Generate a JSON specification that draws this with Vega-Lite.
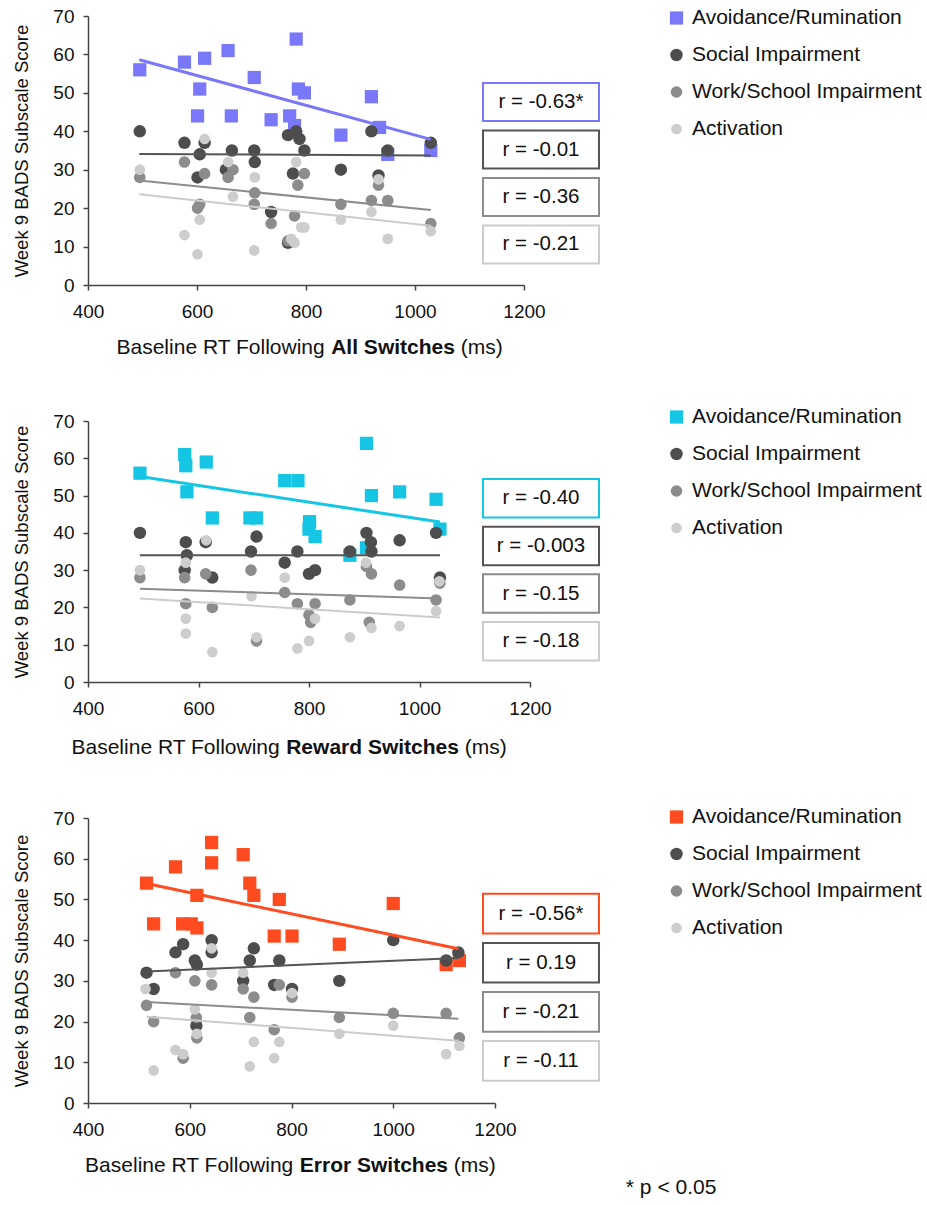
{
  "$schema": "https://vega.github.io/schema/vega-lite/v6.json",
  "padding": {"left": 12, "top": 7, "right": 5, "bottom": 5},
  "spacing": 49,
  "title": {"text": "* p < 0.05", "orient": "bottom", "anchor": "start", "dx": 613, "offset": 2, "fontSize": 21, "fontWeight": "normal", "font": "Liberation Sans", "color": "#111"},
  "datasets": {
    "points": [
      {"panel":"all","series":"Avoidance/Rumination","rt":495,"score":56},
      {"panel":"all","series":"Avoidance/Rumination","rt":577,"score":58},
      {"panel":"all","series":"Avoidance/Rumination","rt":614,"score":59},
      {"panel":"all","series":"Avoidance/Rumination","rt":657,"score":61},
      {"panel":"all","series":"Avoidance/Rumination","rt":605,"score":51},
      {"panel":"all","series":"Avoidance/Rumination","rt":601,"score":44},
      {"panel":"all","series":"Avoidance/Rumination","rt":663,"score":44},
      {"panel":"all","series":"Avoidance/Rumination","rt":705,"score":54},
      {"panel":"all","series":"Avoidance/Rumination","rt":736,"score":43},
      {"panel":"all","series":"Avoidance/Rumination","rt":770,"score":44},
      {"panel":"all","series":"Avoidance/Rumination","rt":779,"score":41.5},
      {"panel":"all","series":"Avoidance/Rumination","rt":782,"score":64},
      {"panel":"all","series":"Avoidance/Rumination","rt":786,"score":51},
      {"panel":"all","series":"Avoidance/Rumination","rt":797,"score":50},
      {"panel":"all","series":"Avoidance/Rumination","rt":864,"score":39},
      {"panel":"all","series":"Avoidance/Rumination","rt":920,"score":49},
      {"panel":"all","series":"Avoidance/Rumination","rt":935,"score":41},
      {"panel":"all","series":"Avoidance/Rumination","rt":950,"score":34},
      {"panel":"all","series":"Avoidance/Rumination","rt":1029,"score":35},
      {"panel":"all","series":"Social Impairment","rt":495,"score":40},
      {"panel":"all","series":"Social Impairment","rt":577,"score":37},
      {"panel":"all","series":"Social Impairment","rt":614,"score":37},
      {"panel":"all","series":"Social Impairment","rt":605,"score":34},
      {"panel":"all","series":"Social Impairment","rt":601,"score":28},
      {"panel":"all","series":"Social Impairment","rt":664,"score":35},
      {"panel":"all","series":"Social Impairment","rt":705,"score":35},
      {"panel":"all","series":"Social Impairment","rt":706,"score":32},
      {"panel":"all","series":"Social Impairment","rt":653,"score":30},
      {"panel":"all","series":"Social Impairment","rt":736,"score":19},
      {"panel":"all","series":"Social Impairment","rt":767,"score":39},
      {"panel":"all","series":"Social Impairment","rt":782,"score":40},
      {"panel":"all","series":"Social Impairment","rt":788,"score":38},
      {"panel":"all","series":"Social Impairment","rt":797,"score":35},
      {"panel":"all","series":"Social Impairment","rt":776,"score":29},
      {"panel":"all","series":"Social Impairment","rt":767,"score":11},
      {"panel":"all","series":"Social Impairment","rt":864,"score":30},
      {"panel":"all","series":"Social Impairment","rt":920,"score":40},
      {"panel":"all","series":"Social Impairment","rt":933,"score":28.5},
      {"panel":"all","series":"Social Impairment","rt":950,"score":35},
      {"panel":"all","series":"Social Impairment","rt":1029,"score":37},
      {"panel":"all","series":"Work/School Impairment","rt":495,"score":28},
      {"panel":"all","series":"Work/School Impairment","rt":577,"score":32},
      {"panel":"all","series":"Work/School Impairment","rt":614,"score":29},
      {"panel":"all","series":"Work/School Impairment","rt":605,"score":21},
      {"panel":"all","series":"Work/School Impairment","rt":601,"score":20},
      {"panel":"all","series":"Work/School Impairment","rt":657,"score":28},
      {"panel":"all","series":"Work/School Impairment","rt":666,"score":30},
      {"panel":"all","series":"Work/School Impairment","rt":706,"score":24},
      {"panel":"all","series":"Work/School Impairment","rt":705,"score":21},
      {"panel":"all","series":"Work/School Impairment","rt":736,"score":16},
      {"panel":"all","series":"Work/School Impairment","rt":779,"score":18},
      {"panel":"all","series":"Work/School Impairment","rt":785,"score":26},
      {"panel":"all","series":"Work/School Impairment","rt":797,"score":29},
      {"panel":"all","series":"Work/School Impairment","rt":864,"score":21},
      {"panel":"all","series":"Work/School Impairment","rt":920,"score":22},
      {"panel":"all","series":"Work/School Impairment","rt":933,"score":26},
      {"panel":"all","series":"Work/School Impairment","rt":950,"score":22},
      {"panel":"all","series":"Work/School Impairment","rt":1029,"score":16},
      {"panel":"all","series":"Work/School Impairment","rt":767,"score":11.5},
      {"panel":"all","series":"Activation","rt":495,"score":30},
      {"panel":"all","series":"Activation","rt":577,"score":13},
      {"panel":"all","series":"Activation","rt":601,"score":8},
      {"panel":"all","series":"Activation","rt":605,"score":17},
      {"panel":"all","series":"Activation","rt":614,"score":38},
      {"panel":"all","series":"Activation","rt":657,"score":32},
      {"panel":"all","series":"Activation","rt":666,"score":23},
      {"panel":"all","series":"Activation","rt":706,"score":28},
      {"panel":"all","series":"Activation","rt":705,"score":9},
      {"panel":"all","series":"Activation","rt":782,"score":32},
      {"panel":"all","series":"Activation","rt":773,"score":12},
      {"panel":"all","series":"Activation","rt":791,"score":15},
      {"panel":"all","series":"Activation","rt":797,"score":15},
      {"panel":"all","series":"Activation","rt":864,"score":17},
      {"panel":"all","series":"Activation","rt":920,"score":19},
      {"panel":"all","series":"Activation","rt":933,"score":27.5},
      {"panel":"all","series":"Activation","rt":950,"score":12},
      {"panel":"all","series":"Activation","rt":1029,"score":14},
      {"panel":"all","series":"Activation","rt":779,"score":11},

      {"panel":"reward","series":"Avoidance/Rumination","rt":494,"score":56},
      {"panel":"reward","series":"Avoidance/Rumination","rt":575,"score":61},
      {"panel":"reward","series":"Avoidance/Rumination","rt":577,"score":58},
      {"panel":"reward","series":"Avoidance/Rumination","rt":579,"score":51},
      {"panel":"reward","series":"Avoidance/Rumination","rt":614,"score":59},
      {"panel":"reward","series":"Avoidance/Rumination","rt":625,"score":44},
      {"panel":"reward","series":"Avoidance/Rumination","rt":693,"score":44},
      {"panel":"reward","series":"Avoidance/Rumination","rt":705,"score":44},
      {"panel":"reward","series":"Avoidance/Rumination","rt":756,"score":54},
      {"panel":"reward","series":"Avoidance/Rumination","rt":780,"score":54},
      {"panel":"reward","series":"Avoidance/Rumination","rt":801,"score":43},
      {"panel":"reward","series":"Avoidance/Rumination","rt":800,"score":41},
      {"panel":"reward","series":"Avoidance/Rumination","rt":811,"score":39},
      {"panel":"reward","series":"Avoidance/Rumination","rt":874,"score":34},
      {"panel":"reward","series":"Avoidance/Rumination","rt":904,"score":64},
      {"panel":"reward","series":"Avoidance/Rumination","rt":913,"score":50},
      {"panel":"reward","series":"Avoidance/Rumination","rt":964,"score":51},
      {"panel":"reward","series":"Avoidance/Rumination","rt":1030,"score":49},
      {"panel":"reward","series":"Avoidance/Rumination","rt":1037,"score":41},
      {"panel":"reward","series":"Avoidance/Rumination","rt":904,"score":36},
      {"panel":"reward","series":"Social Impairment","rt":494,"score":40},
      {"panel":"reward","series":"Social Impairment","rt":577,"score":37.5},
      {"panel":"reward","series":"Social Impairment","rt":579,"score":34},
      {"panel":"reward","series":"Social Impairment","rt":575,"score":30},
      {"panel":"reward","series":"Social Impairment","rt":613,"score":37.5},
      {"panel":"reward","series":"Social Impairment","rt":625,"score":28},
      {"panel":"reward","series":"Social Impairment","rt":705,"score":39},
      {"panel":"reward","series":"Social Impairment","rt":695,"score":35},
      {"panel":"reward","series":"Social Impairment","rt":756,"score":32},
      {"panel":"reward","series":"Social Impairment","rt":779,"score":35},
      {"panel":"reward","series":"Social Impairment","rt":800,"score":29},
      {"panel":"reward","series":"Social Impairment","rt":811,"score":30},
      {"panel":"reward","series":"Social Impairment","rt":874,"score":35},
      {"panel":"reward","series":"Social Impairment","rt":904,"score":40},
      {"panel":"reward","series":"Social Impairment","rt":912,"score":37.5},
      {"panel":"reward","series":"Social Impairment","rt":913,"score":35},
      {"panel":"reward","series":"Social Impairment","rt":964,"score":38},
      {"panel":"reward","series":"Social Impairment","rt":1030,"score":40},
      {"panel":"reward","series":"Social Impairment","rt":1037,"score":28},
      {"panel":"reward","series":"Work/School Impairment","rt":494,"score":28},
      {"panel":"reward","series":"Work/School Impairment","rt":575,"score":28},
      {"panel":"reward","series":"Work/School Impairment","rt":577,"score":21},
      {"panel":"reward","series":"Work/School Impairment","rt":613,"score":29},
      {"panel":"reward","series":"Work/School Impairment","rt":625,"score":20},
      {"panel":"reward","series":"Work/School Impairment","rt":695,"score":30},
      {"panel":"reward","series":"Work/School Impairment","rt":756,"score":24},
      {"panel":"reward","series":"Work/School Impairment","rt":779,"score":21},
      {"panel":"reward","series":"Work/School Impairment","rt":800,"score":18},
      {"panel":"reward","series":"Work/School Impairment","rt":811,"score":21},
      {"panel":"reward","series":"Work/School Impairment","rt":803,"score":16},
      {"panel":"reward","series":"Work/School Impairment","rt":874,"score":22},
      {"panel":"reward","series":"Work/School Impairment","rt":904,"score":31},
      {"panel":"reward","series":"Work/School Impairment","rt":913,"score":29},
      {"panel":"reward","series":"Work/School Impairment","rt":909,"score":16},
      {"panel":"reward","series":"Work/School Impairment","rt":964,"score":26},
      {"panel":"reward","series":"Work/School Impairment","rt":1030,"score":22},
      {"panel":"reward","series":"Work/School Impairment","rt":1037,"score":26.5},
      {"panel":"reward","series":"Work/School Impairment","rt":705,"score":11},
      {"panel":"reward","series":"Activation","rt":494,"score":30},
      {"panel":"reward","series":"Activation","rt":577,"score":32},
      {"panel":"reward","series":"Activation","rt":577,"score":17},
      {"panel":"reward","series":"Activation","rt":577,"score":13},
      {"panel":"reward","series":"Activation","rt":614,"score":38},
      {"panel":"reward","series":"Activation","rt":625,"score":8},
      {"panel":"reward","series":"Activation","rt":696,"score":23},
      {"panel":"reward","series":"Activation","rt":705,"score":12},
      {"panel":"reward","series":"Activation","rt":756,"score":28},
      {"panel":"reward","series":"Activation","rt":779,"score":9},
      {"panel":"reward","series":"Activation","rt":800,"score":11},
      {"panel":"reward","series":"Activation","rt":811,"score":17},
      {"panel":"reward","series":"Activation","rt":874,"score":12},
      {"panel":"reward","series":"Activation","rt":903,"score":32},
      {"panel":"reward","series":"Activation","rt":913,"score":14.5},
      {"panel":"reward","series":"Activation","rt":964,"score":15},
      {"panel":"reward","series":"Activation","rt":1036,"score":27},
      {"panel":"reward","series":"Activation","rt":1030,"score":19},

      {"panel":"error","series":"Avoidance/Rumination","rt":515,"score":54},
      {"panel":"error","series":"Avoidance/Rumination","rt":529,"score":44},
      {"panel":"error","series":"Avoidance/Rumination","rt":572,"score":58},
      {"panel":"error","series":"Avoidance/Rumination","rt":586,"score":44},
      {"panel":"error","series":"Avoidance/Rumination","rt":603,"score":44},
      {"panel":"error","series":"Avoidance/Rumination","rt":614,"score":51},
      {"panel":"error","series":"Avoidance/Rumination","rt":614,"score":43},
      {"panel":"error","series":"Avoidance/Rumination","rt":643,"score":64},
      {"panel":"error","series":"Avoidance/Rumination","rt":643,"score":59},
      {"panel":"error","series":"Avoidance/Rumination","rt":705,"score":61},
      {"panel":"error","series":"Avoidance/Rumination","rt":718,"score":54},
      {"panel":"error","series":"Avoidance/Rumination","rt":726,"score":51},
      {"panel":"error","series":"Avoidance/Rumination","rt":766,"score":41},
      {"panel":"error","series":"Avoidance/Rumination","rt":776,"score":50},
      {"panel":"error","series":"Avoidance/Rumination","rt":801,"score":41},
      {"panel":"error","series":"Avoidance/Rumination","rt":894,"score":39},
      {"panel":"error","series":"Avoidance/Rumination","rt":1000,"score":49},
      {"panel":"error","series":"Avoidance/Rumination","rt":1104,"score":34},
      {"panel":"error","series":"Avoidance/Rumination","rt":1130,"score":35},
      {"panel":"error","series":"Social Impairment","rt":515,"score":32},
      {"panel":"error","series":"Social Impairment","rt":529,"score":28},
      {"panel":"error","series":"Social Impairment","rt":572,"score":37},
      {"panel":"error","series":"Social Impairment","rt":587,"score":39},
      {"panel":"error","series":"Social Impairment","rt":610,"score":35},
      {"panel":"error","series":"Social Impairment","rt":614,"score":34},
      {"panel":"error","series":"Social Impairment","rt":643,"score":40},
      {"panel":"error","series":"Social Impairment","rt":613,"score":19},
      {"panel":"error","series":"Social Impairment","rt":643,"score":37},
      {"panel":"error","series":"Social Impairment","rt":705,"score":30},
      {"panel":"error","series":"Social Impairment","rt":718,"score":35},
      {"panel":"error","series":"Social Impairment","rt":726,"score":38},
      {"panel":"error","series":"Social Impairment","rt":766,"score":29},
      {"panel":"error","series":"Social Impairment","rt":776,"score":35},
      {"panel":"error","series":"Social Impairment","rt":801,"score":28},
      {"panel":"error","series":"Social Impairment","rt":894,"score":30},
      {"panel":"error","series":"Social Impairment","rt":1000,"score":40},
      {"panel":"error","series":"Social Impairment","rt":1104,"score":35},
      {"panel":"error","series":"Social Impairment","rt":1128,"score":37},
      {"panel":"error","series":"Work/School Impairment","rt":515,"score":24},
      {"panel":"error","series":"Work/School Impairment","rt":529,"score":20},
      {"panel":"error","series":"Work/School Impairment","rt":572,"score":32},
      {"panel":"error","series":"Work/School Impairment","rt":610,"score":30},
      {"panel":"error","series":"Work/School Impairment","rt":643,"score":29},
      {"panel":"error","series":"Work/School Impairment","rt":613,"score":21},
      {"panel":"error","series":"Work/School Impairment","rt":614,"score":16},
      {"panel":"error","series":"Work/School Impairment","rt":705,"score":28},
      {"panel":"error","series":"Work/School Impairment","rt":726,"score":26},
      {"panel":"error","series":"Work/School Impairment","rt":718,"score":21},
      {"panel":"error","series":"Work/School Impairment","rt":776,"score":29},
      {"panel":"error","series":"Work/School Impairment","rt":766,"score":18},
      {"panel":"error","series":"Work/School Impairment","rt":801,"score":26},
      {"panel":"error","series":"Work/School Impairment","rt":894,"score":21},
      {"panel":"error","series":"Work/School Impairment","rt":1000,"score":22},
      {"panel":"error","series":"Work/School Impairment","rt":1104,"score":22},
      {"panel":"error","series":"Work/School Impairment","rt":1130,"score":16},
      {"panel":"error","series":"Work/School Impairment","rt":587,"score":11},
      {"panel":"error","series":"Activation","rt":513,"score":28},
      {"panel":"error","series":"Activation","rt":529,"score":8},
      {"panel":"error","series":"Activation","rt":572,"score":13},
      {"panel":"error","series":"Activation","rt":587,"score":12},
      {"panel":"error","series":"Activation","rt":610,"score":23},
      {"panel":"error","series":"Activation","rt":614,"score":17},
      {"panel":"error","series":"Activation","rt":643,"score":38},
      {"panel":"error","series":"Activation","rt":643,"score":32},
      {"panel":"error","series":"Activation","rt":705,"score":32},
      {"panel":"error","series":"Activation","rt":718,"score":9},
      {"panel":"error","series":"Activation","rt":726,"score":15},
      {"panel":"error","series":"Activation","rt":766,"score":11},
      {"panel":"error","series":"Activation","rt":776,"score":15},
      {"panel":"error","series":"Activation","rt":801,"score":27},
      {"panel":"error","series":"Activation","rt":894,"score":17},
      {"panel":"error","series":"Activation","rt":1000,"score":19},
      {"panel":"error","series":"Activation","rt":1104,"score":12},
      {"panel":"error","series":"Activation","rt":1130,"score":14}
    ],
    "trends": [
      {"panel":"all","series":"Avoidance/Rumination","rt":494,"score":58.6},
      {"panel":"all","series":"Avoidance/Rumination","rt":1029,"score":37.9},
      {"panel":"all","series":"Social Impairment","rt":494,"score":34.1},
      {"panel":"all","series":"Social Impairment","rt":1029,"score":33.7},
      {"panel":"all","series":"Work/School Impairment","rt":494,"score":27.2},
      {"panel":"all","series":"Work/School Impairment","rt":1029,"score":19.5},
      {"panel":"all","series":"Activation","rt":494,"score":23.6},
      {"panel":"all","series":"Activation","rt":1029,"score":15.4},
      {"panel":"reward","series":"Avoidance/Rumination","rt":494,"score":55.1},
      {"panel":"reward","series":"Avoidance/Rumination","rt":1037,"score":42.9},
      {"panel":"reward","series":"Social Impairment","rt":494,"score":34},
      {"panel":"reward","series":"Social Impairment","rt":1037,"score":34},
      {"panel":"reward","series":"Work/School Impairment","rt":494,"score":25},
      {"panel":"reward","series":"Work/School Impairment","rt":1037,"score":22.4},
      {"panel":"reward","series":"Activation","rt":494,"score":22.4},
      {"panel":"reward","series":"Activation","rt":1037,"score":17.3},
      {"panel":"error","series":"Avoidance/Rumination","rt":515,"score":53.9},
      {"panel":"error","series":"Avoidance/Rumination","rt":1128,"score":37.9},
      {"panel":"error","series":"Social Impairment","rt":515,"score":32.3},
      {"panel":"error","series":"Social Impairment","rt":1128,"score":35.6},
      {"panel":"error","series":"Work/School Impairment","rt":515,"score":24.8},
      {"panel":"error","series":"Work/School Impairment","rt":1128,"score":20.7},
      {"panel":"error","series":"Activation","rt":515,"score":21.2},
      {"panel":"error","series":"Activation","rt":1128,"score":15.3}
    ],
    "stats": [
      {"panel":"all","series":"Avoidance/Rumination","label":"r = -0.63*"},
      {"panel":"all","series":"Social Impairment","label":"r = -0.01"},
      {"panel":"all","series":"Work/School Impairment","label":"r = -0.36"},
      {"panel":"all","series":"Activation","label":"r = -0.21"},
      {"panel":"reward","series":"Avoidance/Rumination","label":"r = -0.40"},
      {"panel":"reward","series":"Social Impairment","label":"r = -0.003"},
      {"panel":"reward","series":"Work/School Impairment","label":"r = -0.15"},
      {"panel":"reward","series":"Activation","label":"r = -0.18"},
      {"panel":"error","series":"Avoidance/Rumination","label":"r = -0.56*"},
      {"panel":"error","series":"Social Impairment","label":"r = 0.19"},
      {"panel":"error","series":"Work/School Impairment","label":"r = -0.21"},
      {"panel":"error","series":"Activation","label":"r = -0.11"}
    ]
  },
  "vconcat": [
    {
      "width": 436, "height": 269,
      "layer": [
        {
          "layer": [
            {
              "data": {"name": "points"},
              "transform": [{"filter": "datum.panel === 'all'"}],
              "mark": {"type": "point", "filled": true, "opacity": 1, "strokeWidth": 0},
              "encoding": {
                "x": {"field": "rt", "type": "quantitative", "scale": {"domain": [400, 1200]}, "axis": {"orient": "bottom", "values": [400, 600, 800, 1000, 1200], "format": "d", "title": "Baseline RT Following", "titleX": 28, "titleY": 68, "titleAlign": "left", "titleBaseline": "alphabetic"}},
                "y": {"field": "score", "type": "quantitative", "scale": {"domain": [0, 70]}, "axis": {"values": [0, 10, 20, 30, 40, 50, 60, 70], "tickCount": 8, "title": "Week 9 BADS Subscale Score"}},
                "color": {"field": "series", "type": "nominal", "scale": {"domain": ["Avoidance/Rumination", "Social Impairment", "Work/School Impairment", "Activation"], "range": ["#7878F8", "#4D4D4D", "#8C8C8C", "#CDCDCD"]}, "legend": {"orient": "none", "legendX": 578, "legendY": -8.5}},
                "shape": {"field": "series", "type": "nominal", "scale": {"domain": ["Avoidance/Rumination", "Social Impairment", "Work/School Impairment", "Activation"], "range": ["square", "circle", "circle", "circle"]}},
                "size": {"field": "series", "type": "nominal", "scale": {"domain": ["Avoidance/Rumination", "Social Impairment", "Work/School Impairment", "Activation"], "range": [175, 115, 115, 115]}}
              }
            },
            {
              "data": {"name": "trends"},
              "transform": [{"filter": "datum.panel === 'all' && datum.series === 'Avoidance/Rumination'"}],
              "mark": {"type": "line", "strokeWidth": 3},
              "encoding": {
                "x": {"field": "rt", "type": "quantitative", "axis": {"orient": "bottom", "labels": false, "ticks": false, "domain": false, "title": "All Switches", "titleFontWeight": "bold", "titleX": 242.7, "titleY": 68, "titleAlign": "left", "titleBaseline": "alphabetic"}},
                "y": {"field": "score", "type": "quantitative", "axis": {"values": [0, 10, 20, 30, 40, 50, 60, 70], "tickCount": 8, "title": "Week 9 BADS Subscale Score"}},
                "stroke": {"field": "series", "type": "nominal", "scale": {"domain": ["Avoidance/Rumination", "Social Impairment", "Work/School Impairment", "Activation"], "range": ["#7878F8", "#555555", "#8C8C8C", "#CCCCCC"]}, "legend": null}
              }
            },
            {
              "data": {"name": "trends"},
              "transform": [{"filter": "datum.panel === 'all' && datum.series !== 'Avoidance/Rumination'"}],
              "mark": {"type": "line", "strokeWidth": 2},
              "encoding": {
                "x": {"field": "rt", "type": "quantitative", "axis": {"orient": "bottom", "labels": false, "ticks": false, "domain": false, "title": "(ms)", "titleX": 372.2, "titleY": 68, "titleAlign": "left", "titleBaseline": "alphabetic"}},
                "y": {"field": "score", "type": "quantitative", "axis": {"values": [0, 10, 20, 30, 40, 50, 60, 70], "tickCount": 8, "title": "Week 9 BADS Subscale Score"}},
                "stroke": {"field": "series", "type": "nominal", "legend": null}
              }
            }
          ],
          "resolve": {"axis": {"x": "independent"}}
        },
        {
          "data": {"name": "stats"},
          "transform": [{"filter": "datum.panel === 'all'"}],
          "layer": [
            {
              "mark": {"type": "rect", "fill": "white", "strokeWidth": 2},
              "encoding": {
                "x": {"datum": 1124.8, "type": "quantitative", "axis": null},
                "x2": {"datum": 1337.6},
                "y": {"field": "series", "type": "nominal", "scale": {"domain": ["Avoidance/Rumination", "Social Impairment", "Work/School Impairment", "Activation"], "paddingInner": 0.2, "paddingOuter": 0.932, "align": 0.757}, "axis": null},
                "stroke": {"field": "series", "type": "nominal", "legend": null}
              }
            },
            {
              "mark": {"type": "text", "fontSize": 20.5, "font": "Liberation Sans", "color": "#111"},
              "encoding": {
                "x": {"datum": 1231.2, "type": "quantitative", "axis": null},
                "y": {"field": "series", "type": "nominal", "axis": null},
                "text": {"field": "label"}
              }
            }
          ]
        }
      ],
      "resolve": {"scale": {"y": "independent"}, "axis": {"x": "independent", "y": "independent"}}
    },
    {
      "width": 442, "height": 261,
      "layer": [
        {
          "layer": [
            {
              "data": {"name": "points"},
              "transform": [{"filter": "datum.panel === 'reward'"}],
              "mark": {"type": "point", "filled": true, "opacity": 1, "strokeWidth": 0},
              "encoding": {
                "x": {"field": "rt", "type": "quantitative", "scale": {"domain": [400, 1200]}, "axis": {"orient": "bottom", "values": [400, 600, 800, 1000, 1200], "format": "d", "title": "Baseline RT Following", "titleX": -17, "titleY": 71, "titleAlign": "left", "titleBaseline": "alphabetic"}},
                "y": {"field": "score", "type": "quantitative", "scale": {"domain": [0, 70]}, "axis": {"values": [0, 10, 20, 30, 40, 50, 60, 70], "tickCount": 8, "title": "Week 9 BADS Subscale Score"}},
                "color": {"field": "series", "type": "nominal", "scale": {"domain": ["Avoidance/Rumination", "Social Impairment", "Work/School Impairment", "Activation"], "range": ["#14C6E4", "#4D4D4D", "#8C8C8C", "#CDCDCD"]}, "legend": {"orient": "none", "legendX": 578, "legendY": -14.5}},
                "shape": {"field": "series", "type": "nominal", "scale": {"domain": ["Avoidance/Rumination", "Social Impairment", "Work/School Impairment", "Activation"], "range": ["square", "circle", "circle", "circle"]}},
                "size": {"field": "series", "type": "nominal", "scale": {"domain": ["Avoidance/Rumination", "Social Impairment", "Work/School Impairment", "Activation"], "range": [175, 115, 115, 115]}}
              }
            },
            {
              "data": {"name": "trends"},
              "transform": [{"filter": "datum.panel === 'reward' && datum.series === 'Avoidance/Rumination'"}],
              "mark": {"type": "line", "strokeWidth": 3},
              "encoding": {
                "x": {"field": "rt", "type": "quantitative", "axis": {"orient": "bottom", "labels": false, "ticks": false, "domain": false, "title": "Reward Switches", "titleFontWeight": "bold", "titleX": 197.7, "titleY": 71, "titleAlign": "left", "titleBaseline": "alphabetic"}},
                "y": {"field": "score", "type": "quantitative", "axis": {"values": [0, 10, 20, 30, 40, 50, 60, 70], "tickCount": 8, "title": "Week 9 BADS Subscale Score"}},
                "stroke": {"field": "series", "type": "nominal", "scale": {"domain": ["Avoidance/Rumination", "Social Impairment", "Work/School Impairment", "Activation"], "range": ["#14C6E4", "#555555", "#8C8C8C", "#CCCCCC"]}, "legend": null}
              }
            },
            {
              "data": {"name": "trends"},
              "transform": [{"filter": "datum.panel === 'reward' && datum.series !== 'Avoidance/Rumination'"}],
              "mark": {"type": "line", "strokeWidth": 2},
              "encoding": {
                "x": {"field": "rt", "type": "quantitative", "axis": {"orient": "bottom", "labels": false, "ticks": false, "domain": false, "title": "(ms)", "titleX": 376.2, "titleY": 71, "titleAlign": "left", "titleBaseline": "alphabetic"}},
                "y": {"field": "score", "type": "quantitative", "axis": {"values": [0, 10, 20, 30, 40, 50, 60, 70], "tickCount": 8, "title": "Week 9 BADS Subscale Score"}},
                "stroke": {"field": "series", "type": "nominal", "legend": null}
              }
            }
          ],
          "resolve": {"axis": {"x": "independent"}}
        },
        {
          "data": {"name": "stats"},
          "transform": [{"filter": "datum.panel === 'reward'"}],
          "layer": [
            {
              "mark": {"type": "rect", "fill": "white", "strokeWidth": 2},
              "encoding": {
                "x": {"datum": 1114.9, "type": "quantitative", "axis": null},
                "x2": {"datum": 1324.9},
                "y": {"field": "series", "type": "nominal", "scale": {"domain": ["Avoidance/Rumination", "Social Impairment", "Work/School Impairment", "Activation"], "paddingInner": 0.192, "paddingOuter": 0.834, "align": 0.73}, "axis": null},
                "stroke": {"field": "series", "type": "nominal", "legend": null}
              }
            },
            {
              "mark": {"type": "text", "fontSize": 20.5, "font": "Liberation Sans", "color": "#111"},
              "encoding": {
                "x": {"datum": 1219.9, "type": "quantitative", "axis": null},
                "y": {"field": "series", "type": "nominal", "axis": null},
                "text": {"field": "label"}
              }
            }
          ]
        }
      ],
      "resolve": {"scale": {"y": "independent"}, "axis": {"x": "independent", "y": "independent"}}
    },
    {
      "width": 407, "height": 285,
      "layer": [
        {
          "layer": [
            {
              "data": {"name": "points"},
              "transform": [{"filter": "datum.panel === 'error'"}],
              "mark": {"type": "point", "filled": true, "opacity": 1, "strokeWidth": 0},
              "encoding": {
                "x": {"field": "rt", "type": "quantitative", "scale": {"domain": [400, 1200]}, "axis": {"orient": "bottom", "values": [400, 600, 800, 1000, 1200], "format": "d", "title": "Baseline RT Following", "titleX": -3.4, "titleY": 68, "titleAlign": "left", "titleBaseline": "alphabetic"}},
                "y": {"field": "score", "type": "quantitative", "scale": {"domain": [0, 70]}, "axis": {"values": [0, 10, 20, 30, 40, 50, 60, 70], "tickCount": 8, "title": "Week 9 BADS Subscale Score"}},
                "color": {"field": "series", "type": "nominal", "scale": {"domain": ["Avoidance/Rumination", "Social Impairment", "Work/School Impairment", "Activation"], "range": ["#FF4B1F", "#4D4D4D", "#8C8C8C", "#CDCDCD"]}, "legend": {"orient": "none", "legendX": 578, "legendY": -11.5}},
                "shape": {"field": "series", "type": "nominal", "scale": {"domain": ["Avoidance/Rumination", "Social Impairment", "Work/School Impairment", "Activation"], "range": ["square", "circle", "circle", "circle"]}},
                "size": {"field": "series", "type": "nominal", "scale": {"domain": ["Avoidance/Rumination", "Social Impairment", "Work/School Impairment", "Activation"], "range": [175, 115, 115, 115]}}
              }
            },
            {
              "data": {"name": "trends"},
              "transform": [{"filter": "datum.panel === 'error' && datum.series === 'Avoidance/Rumination'"}],
              "mark": {"type": "line", "strokeWidth": 3},
              "encoding": {
                "x": {"field": "rt", "type": "quantitative", "axis": {"orient": "bottom", "labels": false, "ticks": false, "domain": false, "title": "Error Switches", "titleFontWeight": "bold", "titleX": 211.3, "titleY": 68, "titleAlign": "left", "titleBaseline": "alphabetic"}},
                "y": {"field": "score", "type": "quantitative", "axis": {"values": [0, 10, 20, 30, 40, 50, 60, 70], "tickCount": 8, "title": "Week 9 BADS Subscale Score"}},
                "stroke": {"field": "series", "type": "nominal", "scale": {"domain": ["Avoidance/Rumination", "Social Impairment", "Work/School Impairment", "Activation"], "range": ["#FF4B1F", "#555555", "#8C8C8C", "#CCCCCC"]}, "legend": null}
              }
            },
            {
              "data": {"name": "trends"},
              "transform": [{"filter": "datum.panel === 'error' && datum.series !== 'Avoidance/Rumination'"}],
              "mark": {"type": "line", "strokeWidth": 2},
              "encoding": {
                "x": {"field": "rt", "type": "quantitative", "axis": {"orient": "bottom", "labels": false, "ticks": false, "domain": false, "title": "(ms)", "titleX": 365.3, "titleY": 68, "titleAlign": "left", "titleBaseline": "alphabetic"}},
                "y": {"field": "score", "type": "quantitative", "axis": {"values": [0, 10, 20, 30, 40, 50, 60, 70], "tickCount": 8, "title": "Week 9 BADS Subscale Score"}},
                "stroke": {"field": "series", "type": "nominal", "legend": null}
              }
            }
          ],
          "resolve": {"axis": {"x": "independent"}}
        },
        {
          "data": {"name": "stats"},
          "transform": [{"filter": "datum.panel === 'error'"}],
          "layer": [
            {
              "mark": {"type": "rect", "fill": "white", "strokeWidth": 2},
              "encoding": {
                "x": {"datum": 1176.4, "type": "quantitative", "axis": null},
                "x2": {"datum": 1404.4},
                "y": {"field": "series", "type": "nominal", "scale": {"domain": ["Avoidance/Rumination", "Social Impairment", "Work/School Impairment", "Activation"], "paddingInner": 0.192, "paddingOuter": 1.085, "align": 0.773}, "axis": null},
                "stroke": {"field": "series", "type": "nominal", "legend": null}
              }
            },
            {
              "mark": {"type": "text", "fontSize": 20.5, "font": "Liberation Sans", "color": "#111"},
              "encoding": {
                "x": {"datum": 1290.4, "type": "quantitative", "axis": null},
                "y": {"field": "series", "type": "nominal", "axis": null},
                "text": {"field": "label"}
              }
            }
          ]
        }
      ],
      "resolve": {"scale": {"y": "independent"}, "axis": {"x": "independent", "y": "independent"}}
    }
  ],
  "resolve": {
    "scale": {"color": "independent", "stroke": "independent", "shape": "independent", "size": "independent"},
    "legend": {"color": "independent", "stroke": "independent", "shape": "independent", "size": "independent"}
  },
  "config": {
    "font": "Liberation Sans",
    "view": {"stroke": null},
    "axis": {"grid": false, "labelFont": "Liberation Sans", "labelFontSize": 19, "labelColor": "#111", "titleFont": "Liberation Sans", "titleColor": "#111", "titleFontWeight": "normal", "domainColor": "#444", "domainWidth": 1.5, "tickColor": "#444", "tickWidth": 1.5, "tickSize": 5, "labelOverlap": false, "labelFlush": false},
    "axisX": {"labelPadding": 12, "titleFontSize": 21},
    "axisY": {"labelPadding": 9, "titleFontSize": 18.5, "titlePadding": 21},
    "legend": {"title": null, "labelFont": "Liberation Sans", "labelFontSize": 21, "labelColor": "#111", "labelLimit": 0, "rowPadding": 15, "labelOffset": 5, "padding": 0, "symbolStrokeWidth": 0, "symbolOpacity": 1}
  }
}
